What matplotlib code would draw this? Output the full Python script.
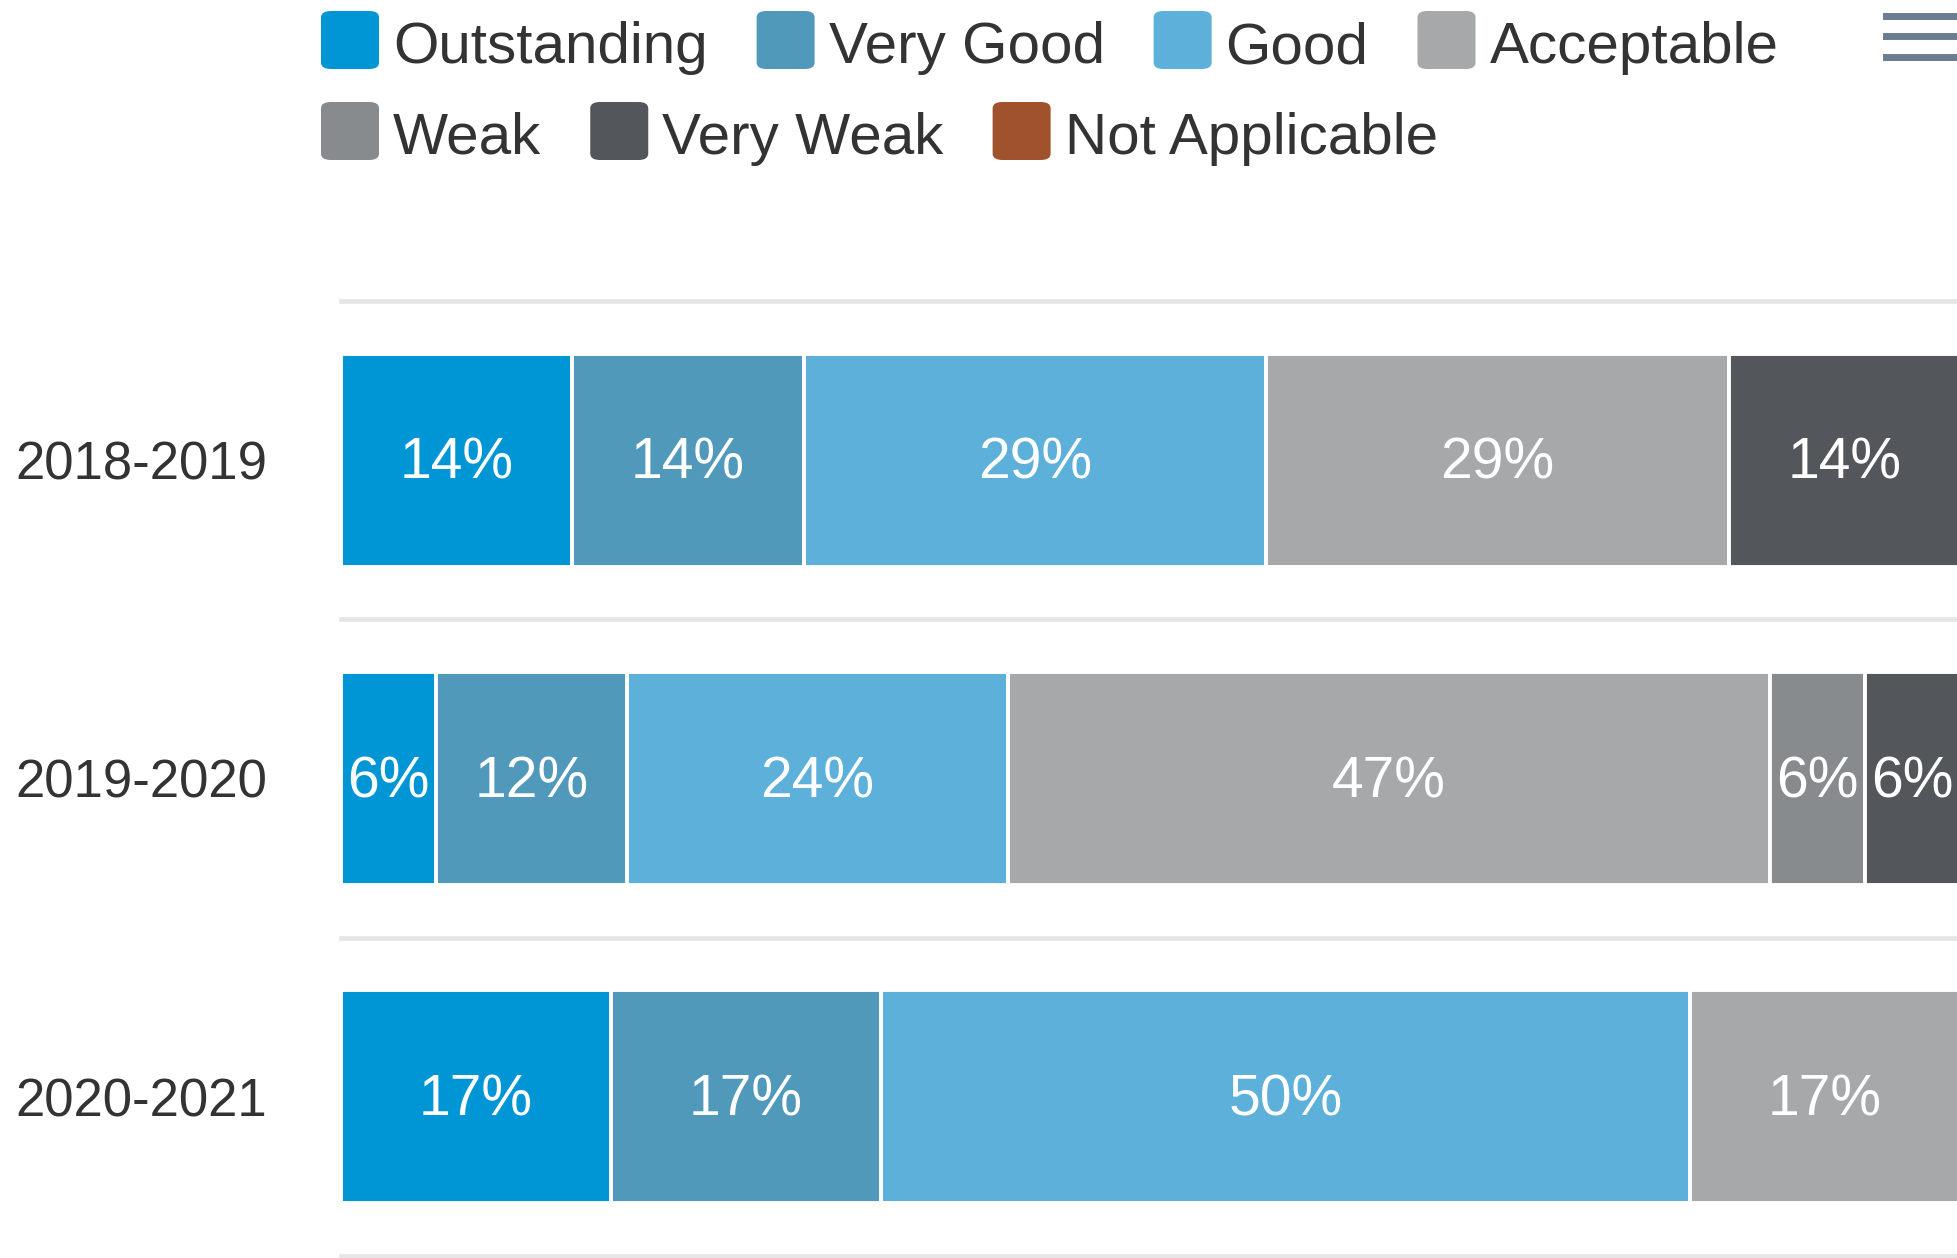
import matplotlib.pyplot as plt
from matplotlib.patches import FancyBboxPatch
from matplotlib.lines import Line2D

plt.rcParams['font.family'] = ['Liberation Sans', 'DejaVu Sans']

# school years (y categories) and rating counts per year
years = ['2018-2019', '2019-2020', '2020-2021']
ratings = ['Outstanding', 'Very Good', 'Good', 'Acceptable', 'Weak', 'Very Weak', 'Not Applicable']
colors = ['#0096d6', '#5199ba', '#5cb0da', '#a7a8aa', '#888b8d', '#53565a', '#a0522d']
counts = {
    'Outstanding':    [1, 1, 1],
    'Very Good':      [1, 2, 1],
    'Good':           [2, 4, 3],
    'Acceptable':     [2, 8, 1],
    'Weak':           [0, 1, 0],
    'Very Weak':      [1, 1, 0],
    'Not Applicable': [0, 0, 0],
}

W, H = 1957, 1258
fig = plt.figure(figsize=(W / 100, H / 100), dpi=100)
ax = fig.add_axes([341 / W, 2 / H, (1960 - 341) / W, 955 / H])

totals = [sum(counts[r][i] for r in ratings) for i in range(len(years))]
lefts = [0.0] * len(years)
for r, c in zip(ratings, colors):
    pct = [100.0 * counts[r][i] / totals[i] for i in range(len(years))]
    ax.barh(range(len(years)), pct, left=lefts, height=0.67, color=c,
            edgecolor='white', linewidth=2.8, zorder=2)
    for i, p in enumerate(pct):
        if p > 0:
            ax.text(lefts[i] + p / 2, i + 0.012, f'{round(p)}%', ha='center', va='center',
                    color='white', fontsize=41, zorder=3)
    lefts = [lefts[i] + pct[i] for i in range(len(years))]

for y in [-0.5, 0.5, 1.5, 2.5]:
    ax.axhline(y, color='#e6e6e6', linewidth=3.4, clip_on=False, zorder=1)

ax.set_xlim(0, 100)
ax.set_ylim(2.5, -0.5)
ax.set_yticks(range(len(years)))
ax.set_yticklabels(years, fontsize=38, color='#333333')
ax.tick_params(axis='y', length=0, pad=53)
ax.set_xticks([])
for s in ax.spines.values():
    s.set_visible(False)

# legend, drawn by hand to follow the wrapped two-row layout
fig.canvas.draw()
renderer = fig.canvas.get_renderer()
rows = [ratings[:4], ratings[4:]]
row_y = [40, 131]
sym = 58
for row, yc in zip(rows, row_y):
    x = 321
    for r in row:
        c = colors[ratings.index(r)]
        box = FancyBboxPatch((x / W, 1 - (yc + sym / 2) / H), sym / W, sym / H,
                             boxstyle='round,pad=0,rounding_size=0.005',
                             transform=fig.transFigure, facecolor=c, edgecolor='none')
        fig.add_artist(box)
        t = fig.text((x + sym + 14) / W, 1 - (yc + 8) / H, r, fontsize=42,
                     color='#333333', ha='left', va='center')
        bb = t.get_window_extent(renderer)
        x = bb.x1 + 49

# menu icon
for yc in [16, 36, 57]:
    fig.add_artist(Line2D([1886 / W, 1.0], [1 - yc / H, 1 - yc / H], color='#6b7d90',
                          linewidth=5, transform=fig.transFigure))

fig.savefig('out.png', dpi=100)
